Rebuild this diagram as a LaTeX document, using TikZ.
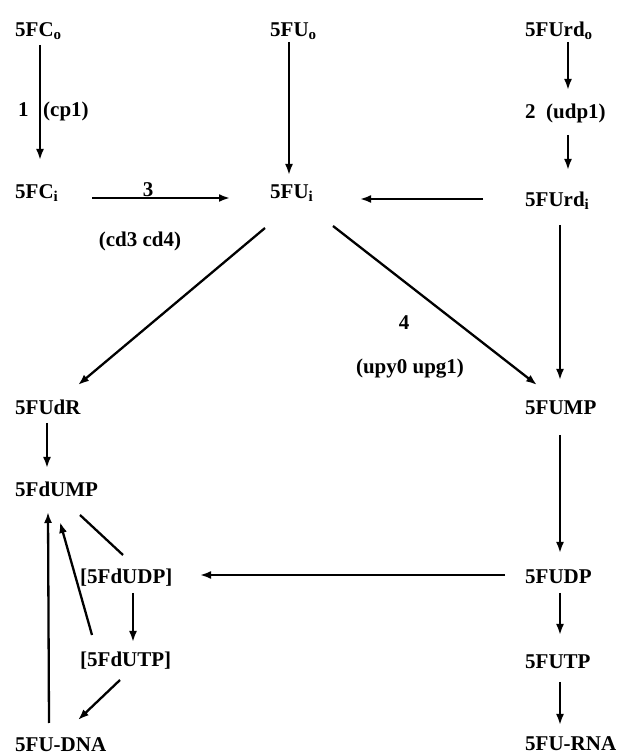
\documentclass[tikz,border=0pt]{standalone}
\usepackage{fontspec}
\setmainfont{Liberation Serif}
\usetikzlibrary{calc,arrows.meta}
\newcommand\lowsub[1]{\raisebox{-3pt}{\fontsize{15pt}{15pt}\selectfont #1}}
\begin{document}
\begin{tikzpicture}[x=1pt,y=1pt,
  lbl/.style={inner sep=0pt,anchor=base west,font=\bfseries\fontsize{21pt}{23pt}\selectfont},
  clbl/.style={inner sep=0pt,anchor=base,font=\bfseries\fontsize{21pt}{23pt}\selectfont},
  arr/.style={line width=2.3pt,-{Latex[length=11pt,width=8pt]}},
  ln/.style={line width=2.3pt}]
\useasboundingbox (0,0) rectangle (635,755);
% nodes
\node[lbl] (FCo) at (15,718) {5FC\lowsub{o}};
\node[lbl] (FUo) at (270,718) {5FU\lowsub{o}};
\node[lbl] (FUrdo) at (525,718) {5FUrd\lowsub{o}};
\node[lbl] (l1) at (18,638) {1};
\node[lbl] (lcp) at (43,638) {(cp1)};
\node[lbl] (l2) at (525,636) {2\ \ (udp1)};
\node[lbl] (FCi) at (15,556) {5FC\lowsub{i}};
\node[clbl] (l3) at (148,558) {3};
\node[clbl] (lcd) at (140,508) {(cd3 cd4)};
\node[lbl] (FUi) at (270,556) {5FU\lowsub{i}};
\node[lbl] (FUrdi) at (525,548) {5FUrd\lowsub{i}};
\node[clbl] (l4) at (404,425) {4};
\node[clbl] (lupy) at (410,381) {(upy0 upg1)};
\node[lbl] (FUdR) at (15,340) {5FUdR};
\node[lbl] (FUMP) at (525,340) {5FUMP};
\node[lbl] (FdUMP) at (15,258) {5FdUMP};
\node[lbl] (FdUDP) at (80,171) {[5FdUDP]};
\node[lbl] (FUDP) at (525,171) {5FUDP};
\node[lbl] (FdUTP) at (80,88) {[5FdUTP]};
\node[lbl] (FUTP) at (525,86) {5FUTP};
\node[lbl] (FUDNA) at (15,4) {5FU-DNA};
\node[lbl] (FURNA) at (525,5) {5FU-RNA};
% connectors
\draw[arr] ($(FCo.base west)+(25,-8)$) -- ($(FCi.base west)+(25,39)$);
\draw[arr] ($(FUo.base west)+(19,-5)$) -- ($(FUi.base west)+(19,24)$);
\draw[arr] ($(FUrdo.base west)+(43,-5)$) -- ($(l2.base west)+(43,29)$);
\draw[arr] ($(l2.base west)+(43,-16)$) -- ($(FUrdi.base west)+(43,37)$);
\draw[arr] ($(FCi.base west)+(77,1)$) -- ($(FUi.base west)+(-40,1)$);
\draw[arr] ($(FUrdi.base west)+(-42,8)$) -- ($(FUi.base west)+(90,0)$);
\draw[arr] ($(FUi.base west)+(-5,-29)$) -- ($(FUdR.base west)+(63,30)$);
\draw[arr] ($(FUi.base west)+(63,-27)$) -- ($(FUMP.base west)+(12,30)$);
\draw[arr] ($(FUrdi.base west)+(35,-18)$) -- ($(FUMP.base west)+(35,35)$);
\draw[arr] ($(FUdR.base west)+(32,-8)$) -- ($(FdUMP.base west)+(32,29)$);
\draw[ln] ($(FdUDP.base west)+(43,29)$) -- ($(FdUMP.base west)+(65,-18)$);
\draw[arr] ($(FUDP.base west)+(-20,9)$) -- ($(FdUDP.base west)+(120,9)$);
\draw[arr] ($(FUMP.base west)+(35,-20)$) -- ($(FUDP.base west)+(35,31)$);
\draw[arr] ($(FdUDP.base west)+(53,-9)$) -- ($(FdUTP.base west)+(53,25)$);
\draw[arr] ($(FdUTP.base west)+(12,32)$) -- ($(FdUMP.base west)+(45,-25)$);
\draw[arr] ($(FdUTP.base west)+(40,-13)$) -- ($(FUDNA.base west)+(63,31)$);
\draw[arr] ($(FUDNA.base west)+(34,28)$) -- ($(FdUMP.base west)+(33,-15)$);
\draw[arr] ($(FUDP.base west)+(35,-9)$) -- ($(FUTP.base west)+(35,34)$);
\draw[arr] ($(FUTP.base west)+(35,-13)$) -- ($(FURNA.base west)+(35,25)$);
\end{tikzpicture}
\end{document}
